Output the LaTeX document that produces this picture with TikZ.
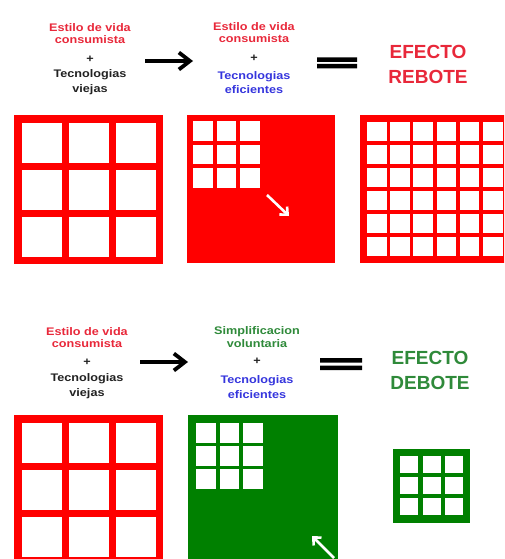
\documentclass[tikz,border=0pt]{standalone}
\usepackage{fontspec}
\setmainfont{Liberation Sans}
\newfontfamily\labelfont[FakeStretch=1.15]{Liberation Sans}
\usetikzlibrary{arrows.meta}
\definecolor{redc}{HTML}{FF0000}
\definecolor{greenc}{HTML}{008000}
\definecolor{redtext}{HTML}{E8283A}
\definecolor{bluetext}{HTML}{3535DD}
\definecolor{greentext}{HTML}{2F8A3A}
\definecolor{darktext}{HTML}{222222}

\begin{document}
\begin{tikzpicture}[x=1pt,y=-1pt,
  lbl/.style={font=\labelfont\bfseries\fontsize{11}{12}\selectfont,align=center,inner sep=0pt},
  plus/.style={font=\labelfont\bfseries\fontsize{11}{11}\selectfont,inner sep=0pt,text=darktext},
  effect/.style={font=\bfseries\fontsize{19}{25}\selectfont,align=center,inner sep=0pt},
  bigarrow/.style={-{Straight Barb[length=11pt,width=17pt]},line width=3.8pt,black},
  smallarrow/.style={-{Straight Barb[length=6pt,width=11pt]},line width=2.6pt,white}]
\useasboundingbox (0,0) rectangle (504,559);
\clip (0,0) rectangle (504,559);
% ---- top row: consumist life style ----
\node[lbl,text=redtext] (topold) at (90,33.5) {Estilo de vida\\consumista};
\node[plus] (topoldplus) at (90,59) {+};
\node[lbl,text=darktext] (topoldtech) at (90,82) {Tecnologias\\[2.5pt]viejas};
\node[lbl,text=redtext] (topnew) at (254,32.5) {Estilo de vida\\consumista};
\node[plus] (topnewplus) at (254,58) {+};
\node[lbl,text=bluetext] (topnewtech) at (254,82.5) {Tecnologias\\[2.5pt]eficientes};
\node[effect,text=redtext] (rebote) at (428,64) {EFECTO\\REBOTE};
\coordinate (ta) at (145,61);
\coordinate (tb) at (193,61);
\draw[bigarrow] (ta) -- (tb);
\fill[black] (317,57.5) rectangle (357,62) (317,64) rectangle (357,68.5);
% old grid: 3x3 big cells
\foreach \gy in {115,415} {
  \fill[redc] (14,\gy) rectangle ++(149,149);
  \foreach \i in {0,1,2} \foreach \j in {0,1,2}
    \fill[white] (22+\i*47,\gy+8+\j*47) rectangle ++(40,40);
}
% efficient technology: same 9 cells, smaller
\fill[redc] (187,115) rectangle ++(148,148);
\foreach \i in {0,1,2} \foreach \j in {0,1,2}
  \fill[white] (193+\i*23.5,121+\j*23.5) rectangle ++(19.5,19.5);
\coordinate (ra) at (267,195);
\coordinate (rb) at (289,216);
\draw[smallarrow] (ra) -- (rb);
% rebound: 6x6 cells
\fill[redc] (360,115) rectangle ++(150,148);
\foreach \i in {0,...,5} \foreach \j in {0,...,5}
  \fill[white] (367+\i*23.2,122+\j*23) rectangle ++(19.6,19.4);
% ---- bottom row: voluntary simplicity ----
\node[lbl,text=redtext] (botold) at (87,337.5) {Estilo de vida\\consumista};
\node[plus] (botoldplus) at (87,362) {+};
\node[lbl,text=darktext] (botoldtech) at (87,386) {Tecnologias\\[2.5pt]viejas};
\node[lbl,text=greentext] (botnew) at (257,337) {Simplificacion\\[1.5pt]voluntaria};
\node[plus] (botnewplus) at (257,361) {+};
\node[lbl,text=bluetext] (botnewtech) at (257,387) {Tecnologias\\[2.5pt]eficientes};
\node[effect,text=greentext] (debote) at (430,370) {EFECTO\\DEBOTE};
\coordinate (ba) at (140,362);
\coordinate (bb) at (188,362);
\draw[bigarrow] (ba) -- (bb);
\fill[black] (320,358) rectangle (362,362.5) (320,365.5) rectangle (362,370);
\fill[greenc] (188,415) rectangle ++(150,150);
\foreach \i in {0,1,2} \foreach \j in {0,1,2}
  \fill[white] (196+\i*23.5,423+\j*23) rectangle ++(19.5,19.5);
\coordinate (ga) at (334,558);
\coordinate (gb) at (312,536);
\draw[smallarrow] (ga) -- (gb);
% debound: 3x3 small cells
\fill[greenc] (393,449) rectangle ++(77,74);
\foreach \i in {0,1,2} \foreach \j in {0,1,2}
  \fill[white] (400+\i*22.5,456+\j*21) rectangle ++(18,17);
\end{tikzpicture}
\end{document}
